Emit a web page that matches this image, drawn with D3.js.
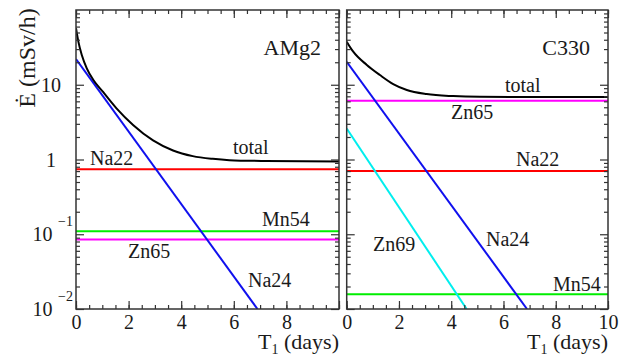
<!DOCTYPE html>
<meta charset="utf-8">
<style>
    body { margin: 0; background: #fff; }
</style>
<script src="https://d3js.org/d3.v7.min.js"></script>
<svg id="chart" width="627" height="357" font-family="Liberation Serif"></svg>
<script>

// values, [T1 in days, dose rate in mSv/h]
var amg2Total = [[0,57],[0.09,37.7],[0.22,25],[0.41,16.6],[0.66,11.6],[1.03,8.0],[1.54,4.84],[2.17,2.9],
                 [2.93,1.8],[3.69,1.32],[4.44,1.11],[5.2,1.02],[5.83,0.98],[7.22,0.955],[10,0.94]];
var amg2Na24 = [[0,22],[6.9,0.01]];
var amg2Na22 = [[0,0.74],[10,0.74]];
var amg2Mn54 = [[0,0.11],[10,0.11]];
var amg2Zn65 = [[0,0.085],[10,0.085]];

var c330Total = [[0,37.7],[0.25,27.7],[0.77,18.4],[1.27,13.5],[1.78,10.2],[2.3,8.5],[3.06,7.5],
                 [4.08,7.05],[5.1,6.9],[7.4,6.85],[10,6.85]];
var c330Na24 = [[0,20.3],[6.9,0.01]];
var c330Zn69 = [[0,2.6],[4.59,0.01]];
var c330Zn65 = [[0,6.1],[10,6.1]];
var c330Na22 = [[0,0.7],[10,0.7]];
var c330Mn54 = [[0,0.0157],[10,0.0157]];

var xMajor = [0,2,4,6,8,10];
var yDecades = [0.01, 0.1, 1, 10];

var FONT = "Liberation Serif";
var INK = "#1a1a1a";

var svg = d3.select("#chart");
var yTop = 10, yBottom = 309;

var y = d3.scaleLog().domain([0.01, 100]).range([yBottom, yTop]);

var panels = [
    { x0: 76, x1: 339, name: "AMg2", xLabels: [0,2,4,6,8], yLabels: true,
      lines: [
        { d: amg2Na22, c: "#ff0000" },
        { d: amg2Mn54, c: "#00ee00" },
        { d: amg2Zn65, c: "#ff00ff" },
        { d: amg2Na24, c: "#1010ee" },
        { d: amg2Total, c: "#000000", smooth: true }
      ],
      labels: [
        ["total", 233, 154], ["Na22", 90, 165], ["Mn54", 262, 226],
        ["Zn65", 128, 258], ["Na24", 248, 287]
      ] },
    { x0: 346.7, x1: 608, name: "C330", xLabels: [0,2,4,6,8,10], yLabels: false,
      lines: [
        { d: c330Zn65, c: "#ff00ff" },
        { d: c330Na22, c: "#ff0000" },
        { d: c330Mn54, c: "#00ee00" },
        { d: c330Zn69, c: "#00eeee" },
        { d: c330Na24, c: "#1010ee" },
        { d: c330Total, c: "#000000", smooth: true }
      ],
      labels: [
        ["total", 505, 92], ["Zn65", 451, 119], ["Na22", 516, 166],
        ["Zn69", 373, 251], ["Na24", 486, 246], ["Mn54", 553, 291]
      ] }
];

var minorX = d3.range(0, 10.001, 0.5);
var minorY = [];
yDecades.forEach(function(dec) {
    for (var k = 2; k <= 9; k++) minorY.push(dec * k);
});

function label(sel, txt, x, yy, size) {
    return sel.append("text").attr("x", x).attr("y", yy)
        .attr("font-family", FONT).attr("font-size", size).attr("fill", INK).text(txt);
}

panels.forEach(function(p, i) {
    var x = d3.scaleLinear().domain([0, 10]).range([p.x0, p.x1]);
    var g = svg.append("g");

    var clipId = "clip" + i;
    svg.append("clipPath").attr("id", clipId)
        .append("rect").attr("x", p.x0).attr("y", yTop)
        .attr("width", p.x1 - p.x0).attr("height", yBottom - yTop);

    var line = d3.line()
        .x(function(d) { return x(d[0]); })
        .y(function(d) { return y(d[1]); });
    var smoothLine = d3.line()
        .x(function(d) { return x(d[0]); })
        .y(function(d) { return y(d[1]); })
        .curve(d3.curveMonotoneX);

    g.append("g").attr("clip-path", "url(#" + clipId + ")")
        .selectAll("path")
        .data(p.lines)
        .enter().append("path")
            .attr("fill", "none")
            .attr("stroke", function(d) { return d.c; })
            .attr("stroke-width", 2)
            .attr("d", function(d) { return d.smooth ? smoothLine(d.d) : line(d.d); });

    // ticks, all pointing inward
    function axis(gen, tr) {
        var a = g.append("g").attr("transform", tr).call(gen);
        a.select(".domain").remove();
        a.selectAll("line").attr("stroke", "#333").attr("stroke-width", 1.2);
        a.attr("font-family", FONT);
        return a;
    }
    axis(d3.axisBottom(x).tickValues(minorX).tickSize(-4).tickFormat(""), "translate(0," + yBottom + ")");
    axis(d3.axisTop(x).tickValues(minorX).tickSize(-4).tickFormat(""), "translate(0," + yTop + ")");
    axis(d3.axisTop(x).tickValues(xMajor).tickSize(-8).tickFormat(""), "translate(0," + yTop + ")");
    var xb = axis(d3.axisBottom(x).tickValues(xMajor).tickSize(-8).tickPadding(6)
        .tickFormat(function(d) { return p.xLabels.indexOf(d) >= 0 ? d : ""; }), "translate(0," + yBottom + ")");
    xb.attr("font-size", 20);
    xb.selectAll("text").attr("fill", INK).attr("font-family", FONT);

    [[d3.axisLeft, p.x0], [d3.axisRight, p.x1]].forEach(function(s) {
        axis(s[0](y).tickValues(minorY).tickSize(-4).tickFormat(""), "translate(" + s[1] + ",0)");
        axis(s[0](y).tickValues(yDecades).tickSize(-8).tickFormat(""), "translate(" + s[1] + ",0)");
    });

    // frame
    g.append("rect")
        .attr("x", p.x0).attr("y", yTop)
        .attr("width", p.x1 - p.x0).attr("height", yBottom - yTop)
        .attr("fill", "none").attr("stroke", "#333").attr("stroke-width", 1.5);

    label(g, p.name, p.x1 - 18, 55, 22).attr("text-anchor", "end");

    p.labels.forEach(function(d) { label(g, d[0], d[1], d[2], 20); });

    var xt = label(g, null, p.x1, 349, 22).attr("text-anchor", "end");
    xt.append("tspan").text("T");
    xt.append("tspan").attr("dy", 5).attr("font-size", 14).text("1");
    xt.append("tspan").attr("dy", -5).text(" (days)");

    if (p.yLabels) {
        yDecades.forEach(function(v) {
            var yy = y(v);
            if (v >= 1) {
                label(g, d3.format("d")(v), 51, yy + 7, 20).attr("text-anchor", "middle");
            } else {
                label(g, "10", 42.5, yy + 7, 20).attr("text-anchor", "middle");
                label(g, d3.format("d")(Math.log10(v)), 58, yy - 8.5, 14);
            }
        });
    }
});

// y title
label(svg, "Ė (mSv/h)", 0, 0, 24)
    .attr("transform", "translate(35,58) rotate(-90)")
    .attr("text-anchor", "middle");

</script>
